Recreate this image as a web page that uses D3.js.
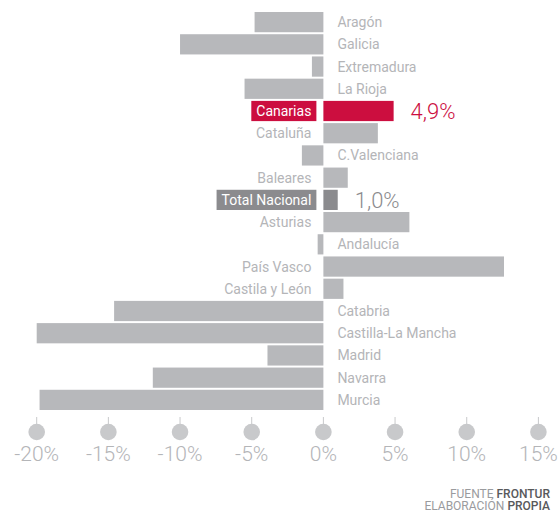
<!DOCTYPE html>
<html lang="es">
<head>
    <meta charset="UTF-8">
    <script src="https://cdn.jsdelivr.net/npm/d3@7"></script>
    <title>Variación por comunidad</title>
    <style>
        body { margin: 0; background: #fff; }
        svg { display: block; font-family: Roboto, 'Noto Sans', sans-serif; }
    </style>
</head>
<body>
    <div class="chart"></div>
    <script>
        const regions = ["Aragón", "Galicia", "Extremadura", "La Rioja", "Canarias", "Cataluña",
            "C.Valenciana", "Baleares", "Total Nacional", "Asturias", "Andalucía", "País Vasco",
            "Castila y León", "Catabria", "Castilla-La Mancha", "Madrid", "Navarra", "Murcia"];
        const values = [-4.8, -10.0, -0.8, -5.5, 4.9, 3.8, -1.5, 1.7, 1.0, 6.0, -0.4, 12.6,
            1.4, -14.6, -20.0, -3.9, -11.9, -19.8];
        const ticks = [-20, -15, -10, -5, 0, 5, 10, 15];
        const highlight = { "Canarias": "#cc0e3f", "Total Nacional": "#8b8b8e" };
        const valueLabels = { "Canarias": "4,9%", "Total Nacional": "1,0%" };

        const width = 560, height = 513;
        const data = regions.map((r, i) => ({ region: r, value: values[i] }));

        const svg = d3.select(".chart").append("svg")
            .attr("width", width)
            .attr("height", height);

        const x = d3.scaleLinear().domain([-20, 15]).range([36.7, 538.4]);
        const y = d3.scaleBand().domain(regions).range([12, 410]).paddingInner(0.09);

        // bars
        svg.selectAll("rect.bar")
            .data(data)
            .enter()
            .append("rect")
            .attr("class", "bar")
            .attr("x", d => x(Math.min(0, d.value)))
            .attr("width", d => Math.abs(x(d.value) - x(0)))
            .attr("y", d => y(d.region))
            .attr("height", y.bandwidth())
            .attr("fill", d => highlight[d.region] || "#b7b8bb");

        // row labels, boxed for the highlighted rows
        const labels = svg.selectAll("g.label")
            .data(data)
            .enter()
            .append("g")
            .attr("class", "label");

        labels.append("text")
            .attr("x", d => d.value >= 0 ? x(0) - 12 : x(0) + 14)
            .attr("y", d => y(d.region) + y.bandwidth() / 2)
            .attr("dy", "0.36em")
            .attr("text-anchor", d => d.value >= 0 ? "end" : "start")
            .attr("font-size", 14)
            .attr("fill", d => highlight[d.region] ? "#fff" : "#b4b5b8")
            .text(d => d.region);

        labels.filter(d => highlight[d.region]).each(function (d) {
            const g = d3.select(this);
            const bb = g.select("text").node().getBBox();
            g.insert("rect", "text")
                .attr("x", bb.x - 5)
                .attr("width", bb.width + 10)
                .attr("y", y(d.region))
                .attr("height", y.bandwidth())
                .attr("fill", highlight[d.region]);
            g.append("text")
                .attr("x", x(d.value) + 17)
                .attr("y", y(d.region) + y.bandwidth() / 2)
                .attr("dy", "0.36em")
                .attr("font-size", 22)
                .attr("font-weight", 300)
                .attr("fill", highlight[d.region])
                .text(valueLabels[d.region]);
        });

        // axis
        const axis = svg.append("g");
        axis.selectAll("line")
            .data(ticks)
            .enter()
            .append("line")
            .attr("x1", d => x(d)).attr("x2", d => x(d))
            .attr("y1", 417).attr("y2", 425)
            .attr("stroke", "#c8c9cb")
            .attr("stroke-width", 1);
        axis.selectAll("circle")
            .data(ticks)
            .enter()
            .append("circle")
            .attr("cx", d => x(d))
            .attr("cy", 432)
            .attr("r", 8.3)
            .attr("fill", "#c8c9cb");
        axis.selectAll("text")
            .data(ticks)
            .enter()
            .append("text")
            .attr("x", d => x(d))
            .attr("y", 461)
            .attr("text-anchor", "middle")
            .attr("font-size", 21)
            .attr("font-weight", 300)
            .attr("fill", "#b4b5b8")
            .text(d => d + "%");

        // source
        const src = svg.append("g")
            .attr("text-anchor", "end")
            .attr("font-size", 12);
        const t1 = src.append("text").attr("x", 550).attr("y", 497.5);
        t1.append("tspan").attr("fill", "#9a9b9e").text("FUENTE ");
        t1.append("tspan").attr("fill", "#58595b").attr("font-weight", 500).text("FRONTUR");
        const t2 = src.append("text").attr("x", 550).attr("y", 510);
        t2.append("tspan").attr("fill", "#9a9b9e").text("ELABORACIÓN ");
        t2.append("tspan").attr("fill", "#58595b").attr("font-weight", 500).text("PROPIA");
    </script>
</body>
</html>
